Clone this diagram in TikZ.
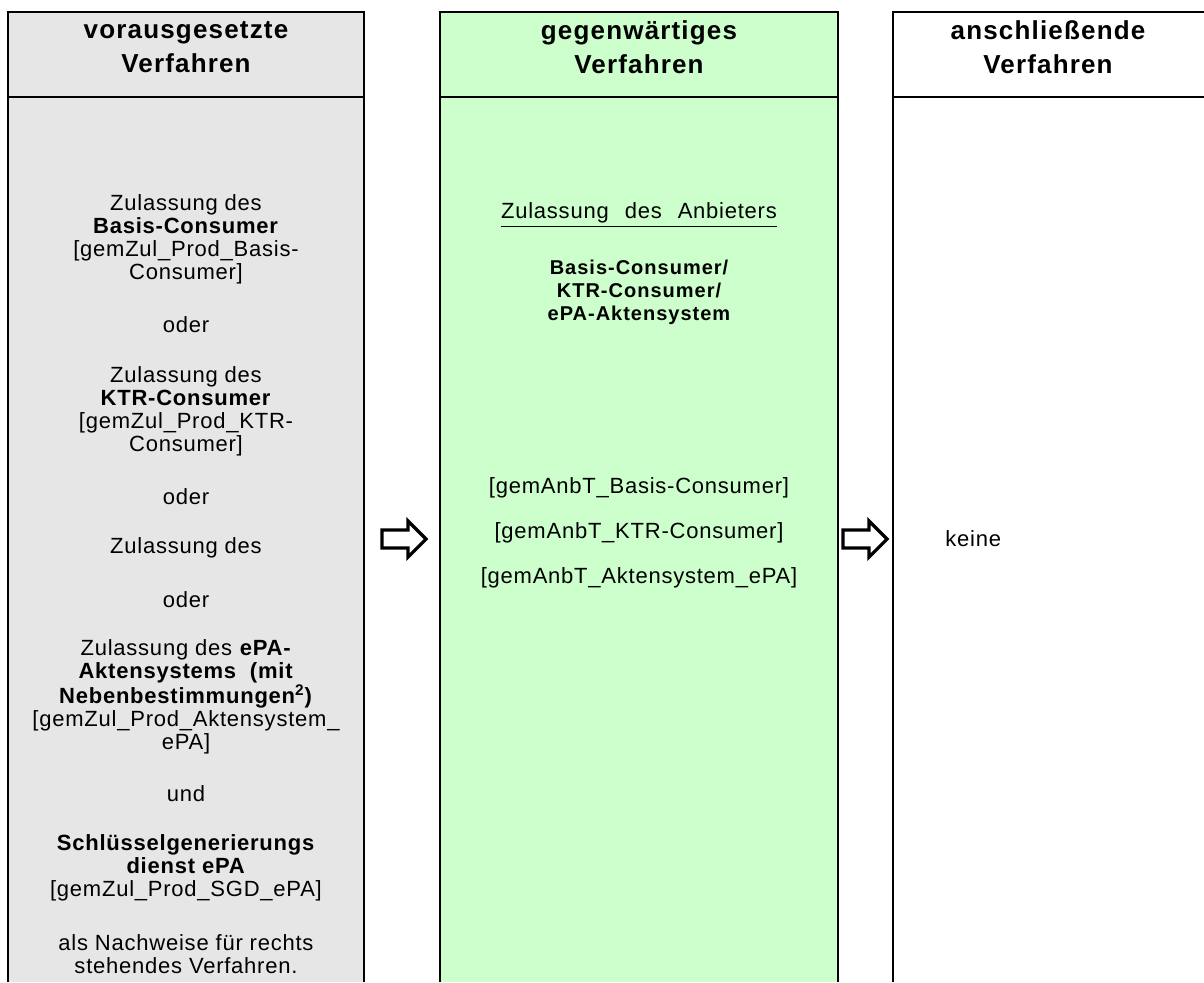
\documentclass[tikz,border=0pt]{standalone}
\usepackage{fontspec}
\setmainfont[LetterSpace=3.5]{Liberation Sans}
\newfontfamily\headfont[LetterSpace=4.5]{Liberation Sans}
\newfontfamily\midboldfont[LetterSpace=5]{Liberation Sans}
\definecolor{colgray}{RGB}{230,230,230}
\definecolor{colgreen}{RGB}{204,255,204}
\begin{document}
\begin{tikzpicture}[x=0.5pt,y=-0.5pt,
  frame/.style={line width=1pt},
  head/.style={font=\headfont\fontsize{13}{17}\selectfont\bfseries, align=center, inner sep=0},
  body/.style={font=\fontsize{11}{11.5}\selectfont, align=center, inner sep=0},
  boldsmall/.style={font=\midboldfont\fontsize{10}{11.5}\selectfont\bfseries, align=center, inner sep=0},
  blockarrow/.style={draw, line width=1.6pt, fill=white, line join=miter}]
\useasboundingbox (0,0) rectangle (1204,982);
% column backgrounds
\fill[colgray] (8,12) rectangle (364,982);
\fill[colgreen] (440,12) rectangle (838,982);
% frames
\draw[frame] (8,982) -- (8,12) -- (364,12) -- (364,982);
\draw[frame] (8,97) -- (364,97);
\draw[frame] (440,982) -- (440,12) -- (838,12) -- (838,982);
\draw[frame] (440,97) -- (838,97);
\draw[frame] (893,982) -- (893,12) -- (1204,12);
\draw[frame] (893,97) -- (1204,97);
% headers
\node[head] (h1) at (186,47) {vorausgesetzte\\Verfahren};
\node[head] (h2) at (639,47) {gegenwärtiges\\Verfahren};
\node[head] (h3) at (1048,47) {anschließende\\Verfahren};
% left column
\node[body] (l1) at (186,239) {Zulassung des\\\textbf{Basis-Consumer}\\{[}gemZul\_Prod\_Basis-\\Consumer]};
\node[body] (l2) at (186,325) {oder};
\node[body] (l3) at (186,411) {Zulassung des\\\textbf{KTR-Consumer}\\{[}gemZul\_Prod\_KTR-\\Consumer]};
\node[body] (l4) at (186,497) {oder};
\node[body] (l5) at (186,548) {Zulassung des};
\node[body] (l6) at (186,600) {oder};
\node[body] (l7) at (186,697) {Zulassung des \textbf{ePA-}\\\textbf{Aktensystems\ \ (mit}\\\textbf{Nebenbestimmungen\textsuperscript{2})}\\{[}gemZul\_Prod\_Aktensystem\_\\ePA]};
\node[body] (l8) at (186,794) {und};
\node[body] (l9) at (186,868) {\textbf{Schlüsselgenerierungs}\\\textbf{dienst ePA}\\{[}gemZul\_Prod\_SGD\_ePA]};
\node[body] (l10) at (186,954.5) {als Nachweise für rechts\\stehendes Verfahren.};
% middle column
\node[body] (m1) at (639,215) {\underline{Zulassung\hspace{8pt}des\hspace{8pt}Anbieters}};
\node[boldsmall] (m2) at (639,292) {Basis-Consumer/\\KTR-Consumer/\\ePA-Aktensystem};
\node[body, font=\fontsize{11}{22.5}\selectfont] (m3) at (639,533) {{[}gemAnbT\_Basis-Consumer]\\{[}gemAnbT\_KTR-Consumer]\\{[}gemAnbT\_Aktensystem\_ePA]};
% right column
\node[body, anchor=west] (r1) at (945,539) {keine};
% block arrows
\coordinate (a1) at (404,539);
\coordinate (a2) at (865,539);
\foreach \c in {a1,a2}
  \draw[blockarrow, shift={(\c)}] (-22,-9) -- (4,-9) -- (4,-18) -- (22,0) -- (4,18) -- (4,9) -- (-22,9) -- cycle;
\end{tikzpicture}
\end{document}
